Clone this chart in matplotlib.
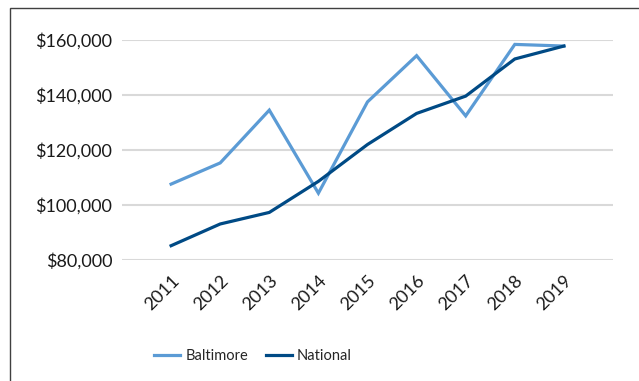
import matplotlib
matplotlib.use("Agg")
import matplotlib.pyplot as plt
from matplotlib.patches import Rectangle
from matplotlib.ticker import FuncFormatter

years = ["2011", "2012", "2013", "2014", "2015", "2016", "2017", "2018", "2019"]
baltimore = [107600, 115300, 134500, 104300, 137500, 154300, 132400, 158400, 157800]
national = [85200, 93100, 97300, 108600, 122000, 133300, 139600, 153100, 157800]
yticks = [80000, 100000, 120000, 140000, 160000]

plt.rcParams['font.family'] = ['Lato', 'DejaVu Sans']

fig = plt.figure(figsize=(6.39, 3.81), dpi=100)
fig.patches.append(Rectangle((10/639, -0.1), 1.2, 1.1 - 8/381, transform=fig.transFigure,
                             fill=False, edgecolor='#404040', linewidth=1.0))
ax = fig.add_axes([122/639, 1 - 260/381, 491/639, 220/381])

x = list(range(1, len(years) + 1))
ax.plot(x, baltimore, color='#5b9bd5', linewidth=2.3, label='Baltimore', solid_joinstyle='miter')
ax.plot(x, national, color='#004a85', linewidth=2.3, label='National', solid_joinstyle='miter')

ax.set_xlim(0, 10)
ax.set_ylim(80000, 160000)
ax.set_yticks(yticks)
ax.yaxis.set_major_formatter(FuncFormatter(lambda v, p: f"${v:,.0f}"))
ax.set_xticks(x)
ax.set_xticklabels(years, rotation=45, ha='right', rotation_mode='anchor')
ax.tick_params(axis='both', length=0, labelsize=13, colors='#1a1a1a')
ax.tick_params(axis='y', pad=7)
ax.tick_params(axis='x', pad=9)
ax.grid(axis='y', color='#d9d9d9', linewidth=1.5)
ax.set_axisbelow(True)
for s in ax.spines.values():
    s.set_visible(False)

fig.legend(loc='center', bbox_to_anchor=(253/639, 1 - 356/381), ncol=2, frameon=False,
           fontsize=10.5, handlelength=1.8, columnspacing=1.2, handletextpad=0.35,
           labelcolor='#262626')

fig.savefig("out.png", dpi=100)
